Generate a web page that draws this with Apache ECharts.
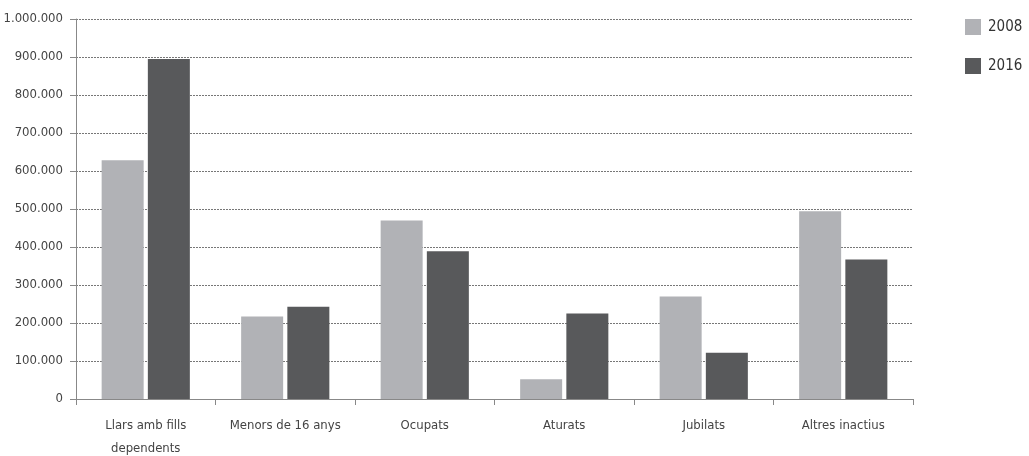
<!DOCTYPE html>
<html>
<head>
<meta charset="utf-8">
<script src="https://cdn.jsdelivr.net/npm/echarts@6/dist/echarts.min.js"></script>
<style>html,body{margin:0;padding:0;background:#fff}#c{width:1029px;height:456px}</style>
</head>
<body>
<div id="c"></div>
<script>
const categories = ['Llars amb fills\ndependents', 'Menors de 16 anys', 'Ocupats', 'Aturats', 'Jubilats', 'Altres inactius'];
const series2008 = [628000, 217000, 470000, 52000, 270000, 494000];
const series2016 = [895000, 243000, 389000, 225000, 122000, 367000];
const seriesNames = ['2008', '2016'];

const FONT = '"Liberation Sans Narrow", "DejaVu Sans Condensed", sans-serif';
function fmt(v) {
  return String(v).replace(/\B(?=(\d{3})+(?!\d))/g, '.');
}
const chart = echarts.init(document.getElementById('c'), null, {renderer: 'canvas'});
chart.setOption({
  animation: false,
  backgroundColor: '#fff',
  grid: {left: 76, right: 116, top: 19, bottom: 57, containLabel: false, outerBoundsMode: 'none'},
  legend: {
    orient: 'vertical', left: 965, top: 19, padding: 0,
    itemWidth: 16, itemHeight: 16, itemGap: 23,
    icon: 'rect',
    textStyle: {fontFamily: FONT, fontSize: 15, color: '#333', padding: [0, 0, 0, 2]},
    data: seriesNames
  },
  xAxis: {
    type: 'category',
    data: categories,
    axisLine: {lineStyle: {color: '#888', width: 1}},
    axisTick: {show: true, length: 6, alignWithLabel: false, lineStyle: {color: '#888'}},
    axisLabel: {fontFamily: FONT, fontSize: 13, color: '#444', margin: 15, lineHeight: 23, interval: 0}
  },
  yAxis: {
    type: 'value', min: 0, max: 1000000, interval: 100000,
    axisLine: {show: true, lineStyle: {color: '#888', width: 1}},
    axisTick: {show: true, length: 6, lineStyle: {color: '#888'}},
    axisLabel: {fontFamily: FONT, fontSize: 13, color: '#444', margin: 13, formatter: fmt},
    splitLine: {show: true, lineStyle: {color: '#777', width: 1, type: [2, 1]}}
  },
  series: [
    {name: seriesNames[0], type: 'bar', data: series2008, barWidth: 42, barGap: '10%', itemStyle: {color: '#b1b2b6'}},
    {name: seriesNames[1], type: 'bar', data: series2016, barWidth: 42, barGap: '10%', itemStyle: {color: '#58595b'}}
  ]
});
</script>
</body>
</html>
